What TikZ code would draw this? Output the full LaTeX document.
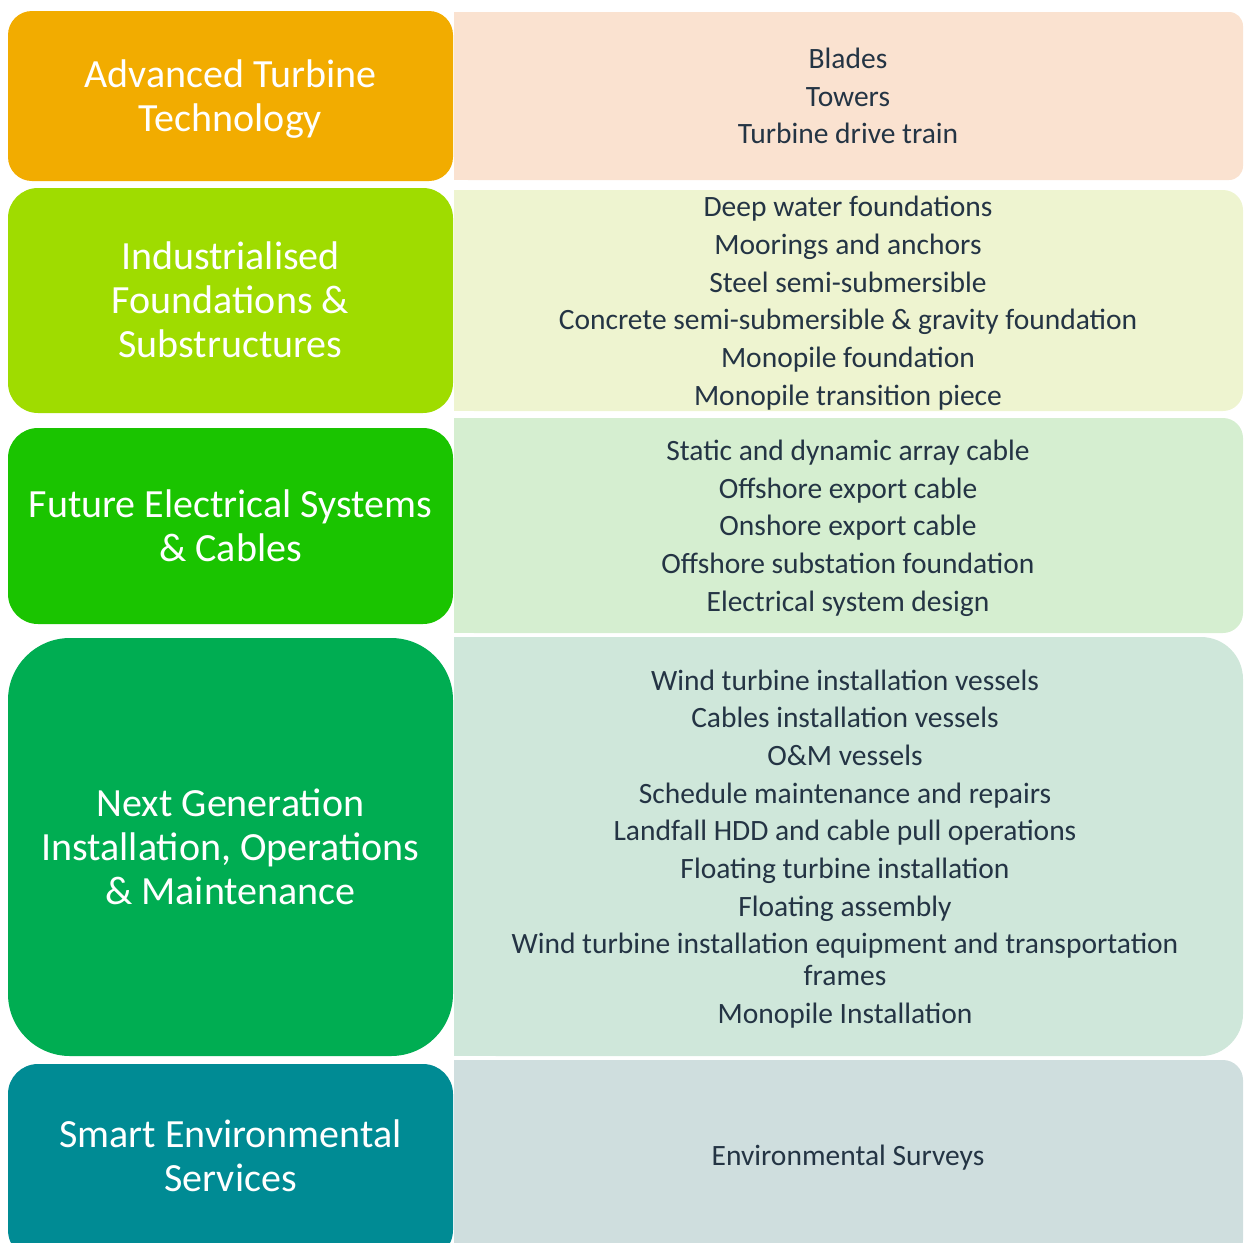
\documentclass[tikz,border=0pt]{standalone}
\usepackage{fontspec}
\setmainfont{Carlito}
\definecolor{catA}{HTML}{F2AC00}
\definecolor{catB}{HTML}{9FDC00}
\definecolor{catC}{HTML}{1AC400}
\definecolor{catD}{HTML}{00AD52}
\definecolor{catE}{HTML}{008B94}
\definecolor{panA}{HTML}{FAE2D0}
\definecolor{panB}{HTML}{EEF4D0}
\definecolor{panC}{HTML}{D5EED0}
\definecolor{panD}{HTML}{CFE7DA}
\definecolor{panE}{HTML}{CFDEDE}
\definecolor{itemtext}{HTML}{243444}
\begin{document}
\begin{tikzpicture}[x=1pt,y=-1pt,
  cattext/.style={text=white, align=center, inner sep=0pt,
    font=\fontsize{40}{44}\selectfont},
  itemlist/.style={text=itemtext, align=center, inner sep=0pt,
    font=\fontsize{29.5}{37.7}\selectfont}]
\clip (0,0) rectangle (1243,1243);

% category boxes (left column)
\fill[catA, rounded corners=24pt] (8,11) rectangle (453,181);
\fill[catB, rounded corners=30pt] (8,188) rectangle (453,413);
\fill[catC, rounded corners=30pt] (8,428) rectangle (453,624);
\fill[catD, rounded corners=62pt] (8,638) rectangle (453,1056);
\fill[catE, rounded corners=30pt] (8,1064) rectangle (453,1260);

% item panels (right column), rounded on the right only
\fill[panA, rounded corners=14pt] (454,12) rectangle (1243,180);
\fill[panA] (454,12) rectangle (800,180);
\fill[panB, rounded corners=20pt] (454,190) rectangle (1243,411);
\fill[panB] (454,190) rectangle (800,411);
\fill[panC, rounded corners=20pt] (454,418) rectangle (1243,633);
\fill[panC] (454,418) rectangle (800,633);
\fill[panD, rounded corners=42pt] (454,637) rectangle (1243,1056);
\fill[panD] (454,637) rectangle (800,1056);
\fill[panE, rounded corners=20pt] (454,1060) rectangle (1243,1260);
\fill[panE] (454,1060) rectangle (800,1260);

% category titles
\node[cattext] (turbine) at (230.5,99) {Advanced Turbine\\Technology};
\node[cattext] (found) at (230.5,300) {Industrialised\\Foundations \&\\Substructures};
\node[cattext] (elec) at (230.5,526) {Future Electrical Systems\\\& Cables};
\node[cattext] (install) at (230.5,847) {Next Generation\\Installation, Operations\\\& Maintenance};
\node[cattext] (env) at (230.5,1156) {Smart Environmental\\Services};

% item lists
\node[itemlist] (turbineitems) at (848,96) {Blades\\Towers\\Turbine drive train};
\node[itemlist] (founditems) at (848,303) {Deep water foundations\\Moorings and anchors\\Steel semi-submersible\\Concrete semi-submersible \& gravity foundation\\Monopile foundation\\Monopile transition piece};
\node[itemlist] (elecitems) at (848,528) {Static and dynamic array cable\\Offshore export cable\\Onshore export cable\\Offshore substation foundation\\Electrical system design};
\node[itemlist] (installitems) at (845,849) {Wind turbine installation vessels\\Cables installation vessels\\O\&M vessels\\Schedule maintenance and repairs\\Landfall HDD and cable pull operations\\Floating turbine installation\\Floating assembly\\Wind turbine installation equipment and transportation\\[-5.7pt]frames\\Monopile Installation};
\node[itemlist] (envitems) at (848,1158) {Environmental Surveys};
\end{tikzpicture}
\end{document}
